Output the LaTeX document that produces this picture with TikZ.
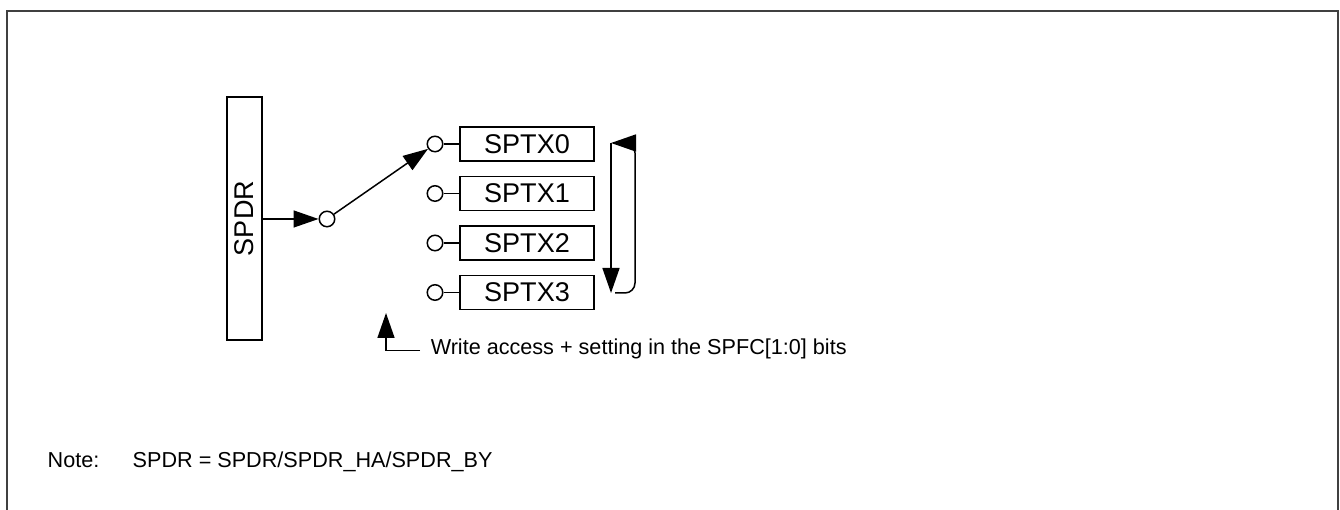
\documentclass[tikz,border=0pt]{standalone}
\usepackage{fontspec}
\setmainfont{Liberation Sans}
\usepackage{tikz}
\usetikzlibrary{arrows.meta, positioning, calc}

\begin{document}
\begin{tikzpicture}[
      >={Triangle[length=0.5cm, width=0.34cm]},
      line width=0.85pt,
      reg/.style={rectangle, draw, minimum width=2.68cm, minimum height=0.68cm, inner sep=0pt, font=\fontsize{15.4}{18}\selectfont},
      dreg/.style={rectangle, draw, minimum width=0.7cm, minimum height=4.86cm, inner sep=0pt},
      pin/.style={circle, draw, fill=white, minimum size=0.31cm, inner sep=0pt},
      note/.style={inner sep=0pt, text height=0.75em, text depth=0.25em, font=\fontsize{12.3}{14}\selectfont},
      frame/.style={draw=black!75, line width=1.2pt}
  ]
      \useasboundingbox (0,0) rectangle (26.8,10.2);
      % outer frame, open at the bottom
      \draw[frame] (0.14,-0.2) -- (0.14,9.98) -- (26.76,9.98) -- (26.76,-0.2);

      % data register
      \node[dreg] (spdr) at (4.89,5.83) {};
      \node[rotate=90, font=\fontsize{15.4}{18}\selectfont] (spdrlab) at (spdr.center) {SPDR};

      % switch
      \node[pin] (sw) at (6.54,5.82) {};
      \draw[->] (spdr.east |- sw) -- (sw);

      % transmit buffers
      \node[pin] (o0) at (8.70,7.32) {};
      \node[pin] (o1) at (8.70,6.33) {};
      \node[pin] (o2) at (8.70,5.34) {};
      \node[pin] (o3) at (8.70,4.35) {};
      \node[reg] (tx0) at (10.54,7.32) {SPTX0};
      \node[reg] (tx1) at (10.54,6.33) {SPTX1};
      \node[reg] (tx2) at (10.54,5.34) {SPTX2};
      \node[reg] (tx3) at (10.54,4.35) {SPTX3};
      \draw (o0) -- (tx0);
      \draw (o1) -- (tx1);
      \draw (o2) -- (tx2);
      \draw (o3) -- (tx3);
      \draw[->] (sw) -- (o0);

      % buffer rotation
      \coordinate (looptop) at (12.22,7.34);
      \coordinate (loopbot) at (12.22,4.34);
      \draw[->] (looptop) -- (loopbot);
      \draw[->, rounded corners=0.2cm] ($(loopbot)+(0.08,0)$) -- ++(0.4,0) |- (looptop);

      % write access
      \coordinate (wtip) at (7.72,3.94);
      \node[note, anchor=west] (wtext) at (8.6,3.19) {Write access + setting in the SPFC[1:0] bits};
      \draw[->] ([xshift=-0.2cm]wtext.west) -| (wtip);

      % note
      \node[note, anchor=west] (notelab) at (0.94,0.94) {Note:};
      \node[note, anchor=west] (notetext) at (2.64,0.94) {SPDR = SPDR/SPDR\_HA/SPDR\_BY};

  \end{tikzpicture}
\end{document}
